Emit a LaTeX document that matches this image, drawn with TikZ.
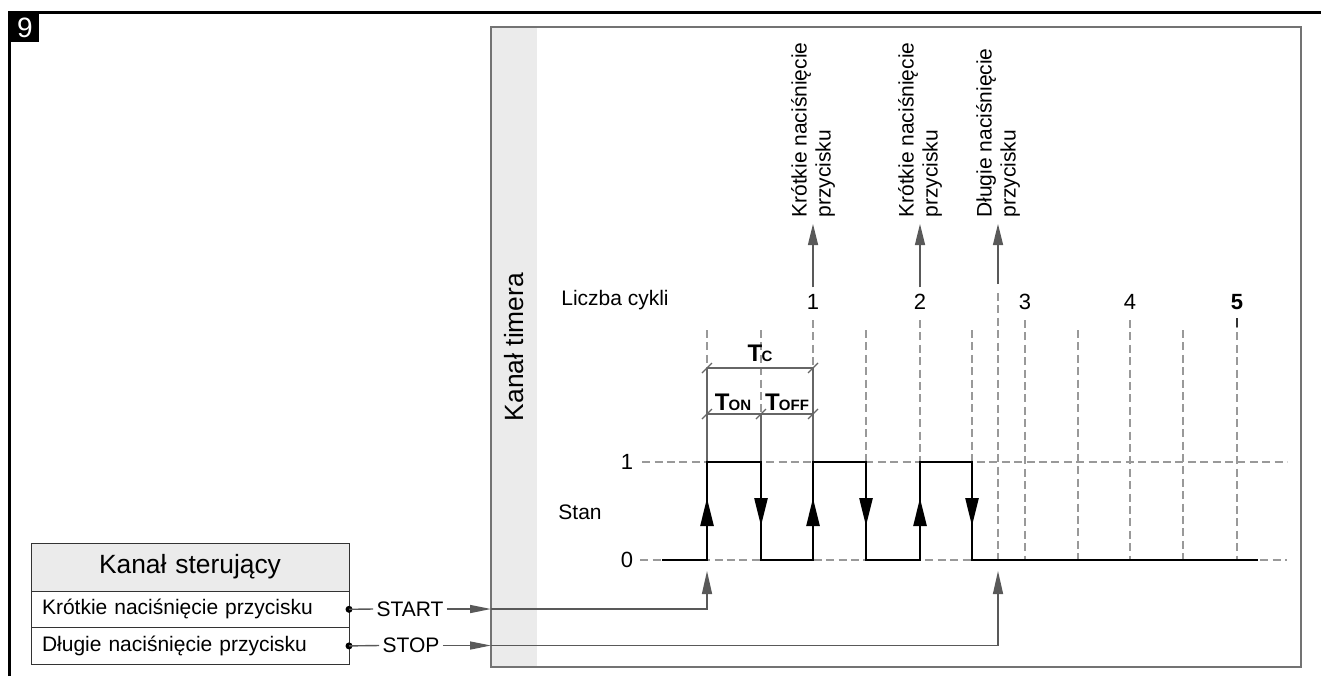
\documentclass[tikz,border=0pt]{standalone}
\usepackage{fontspec}
\setmainfont{Liberation Sans}
\usetikzlibrary{
    arrows.meta,
    positioning,
    calc
}

\newcommand{\tlab}[1]{\textbf{\fontsize{12}{12}\selectfont T\kern-0.4pt{\fontsize{7.5}{8}\selectfont #1}}}

\begin{document}
\begin{tikzpicture}[
  x=0.5pt,
  y=-0.5pt,
  every node/.style={align=center, font=\fontsize{10.5}{12}\selectfont},
  bigtext/.style={font=\fontsize{13.2}{15}\selectfont},
  numtext/.style={font=\fontsize{11}{13}\selectfont},
  frameline/.style={line width=1.5pt, black},
  timerbox/.style={
    draw=black!55,
    line width=0.75pt,
    minimum width=405pt,
    minimum height=320pt,
    inner sep=0pt,
    outer sep=0pt,
    anchor=north west
  },
  strip/.style={
    fill=black!8,
    minimum width=23pt,
    minimum height=320pt,
    inner sep=0pt,
    outer sep=0pt,
    anchor=north west
  },
  ctlrow/.style={
    draw=black!80,
    line width=0.5pt,
    minimum width=159pt,
    text width=148pt,
    inner xsep=5.5pt,
    minimum height=18.3pt,
    outer sep=0pt,
    align=left
  },
  presslabel/.style={rotate=90, anchor=west, align=left, inner sep=0pt},
  griddash/.style={draw=black!40, line width=0.8pt, dash pattern=on 4pt off 2.2pt},
  signal/.style={line width=1.3pt, black, line join=miter},
  sigtip/.style={-{Triangle[length=14pt,width=6.5pt]}, line width=1.3pt, black},
  conn/.style={draw=black!65, line width=0.7pt},
  arrow/.style={conn, -{Triangle[length=10.5pt,width=5pt]}},
  inarrow/.style={conn, -{Triangle[length=10.5pt,width=4pt]}},
  dimline/.style={draw=black!60, line width=0.6pt}
]
  \useasboundingbox (0,0) rectangle (1321,676);

  % Frame and figure number.
  \draw[frameline] (9.5,676) -- (9.5,12) -- (1321,12);
  \node[fill=black, text=white, minimum size=14.5pt, inner sep=0pt, anchor=north west,
        font=\fontsize{14}{14}\selectfont] (fignum) at (10,13) {9};

  % Timer channel box.
  \node[strip] (strip) at (491,27) {};
  \node[timerbox] (timer) at (491,27) {};
  \node[bigtext, rotate=90] (timertitle) at (514,347) {Kanał timera};

  % Control channel table.
  \node[ctlrow, bigtext, fill=black!8, minimum height=24pt, align=center, anchor=north west] (ctlhead) at (31,543) {Kanał sterujący};
  \node[ctlrow, below=0pt of ctlhead] (ctlshort) {Krótkie naciśnięcie przycisku};
  \node[ctlrow, below=0pt of ctlshort] (ctllong) {Długie naciśnięcie przycisku};
  \fill (ctlshort.east) circle (1.75pt);
  \fill (ctllong.east) circle (1.75pt);

  % START / STOP inputs.
  \node[inner xsep=1.5pt] (start) at (410,609) {START};
  \node[inner xsep=1.5pt] (stop) at (411,645.5) {STOP};
  \coordinate (startin) at (timer.west |- start);
  \coordinate (stopin) at (timer.west |- stop);
  \coordinate (startrise) at (707,571);
  \coordinate (stoprise) at (998,571);
  \draw[conn] (ctlshort.east) -- (start.west);
  \draw[conn] (ctllong.east) -- (stop.west);
  \draw[inarrow] (start.east) -- (startin);
  \draw[inarrow] (stop.east) -- (stopin);
  \draw[conn, -{Triangle[length=11.5pt,width=5pt]}] (startin) -| (startrise);
  \draw[conn, -{Triangle[length=11.5pt,width=5pt]}] (stopin) -| (stoprise);

  % Cycle counter.
  \node (cycles) at (615,300) {Liczba cykli};
  \foreach \x/\n in {813/1, 920/2, 1025/3, 1130/4}
    \node[numtext] (cyc\n) at (\x,302) {\n};
  \node[numtext, font=\fontsize{11}{13}\selectfont\bfseries] (cyc5) at (1237,302) {5};

  % Grid.
  \foreach \x/\t in {707/330, 761/330, 813/320, 866/330, 920/320, 972/330,
                     998/293, 1025/320, 1078/330, 1130/320, 1183/330, 1237/320}
    \draw[griddash] (\x,\t) -- (\x,560);
  \draw[line width=1.2pt, black!80] (1237,318) -- (1237,327);

  \node[numtext] (lvl1) at (627,462) {1};
  \node[numtext] (lvl0) at (627,560) {0};
  \node (state) at (580,512) {Stan};
  \draw[griddash, shorten <=1pt] (lvl1.east) -- (1287,462);
  \draw[griddash, shorten <=0pt] (lvl0.east) -- (1287,560);

  % Button presses.
  \node[presslabel] (press1) at (813,218) {Krótkie naciśnięcie\\przycisku};
  \node[presslabel] (press2) at (920,218) {Krótkie naciśnięcie\\przycisku};
  \node[presslabel] (press3) at (998,218) {Długie naciśnięcie\\przycisku};
  \coordinate (longmark) at (998,284);
  \draw[arrow, shorten >=3pt] (cyc1.north) -- (press1.west);
  \draw[arrow, shorten >=3pt] (cyc2.north) -- (press2.west);
  \draw[arrow, shorten >=3pt] (longmark) -- (press3.west);

  % Timing dimensions.
  \draw[dimline] (707,368) -- (707,462);
  \draw[dimline] (761,414) -- (761,462);
  \draw[dimline] (813,368) -- (813,462);
  \draw[dimline] (707,368) -- (813,368);
  \draw[dimline] (707,414) -- (813,414);
  \foreach \p in {(707,368), (813,368), (707,414), (761,414), (813,414)}
    \draw[dimline] \p ++(-5,5) -- ++(10,-10);
  \node[inner sep=1pt] (tc) at (760,353) {\tlab{C}};
  \node[inner sep=1pt] (ton) at (733,402) {\tlab{ON}};
  \node[inner sep=1pt] (toff) at (787,402) {\tlab{OFF}};

  % Output state.
  \draw[signal] (662,560) -- (707,560) -- (707,462) -- (761,462) -- (761,560)
    -- (813,560) -- (813,462) -- (866,462) -- (866,560) -- (920,560)
    -- (920,462) -- (972,462) -- (972,560) -- (1258,560);
  \foreach \x in {707, 813, 920}
    \draw[sigtip] (\x,527) -- (\x,498);
  \foreach \x in {761, 866, 972}
    \draw[sigtip] (\x,497) -- (\x,526);
\end{tikzpicture}
\end{document}
